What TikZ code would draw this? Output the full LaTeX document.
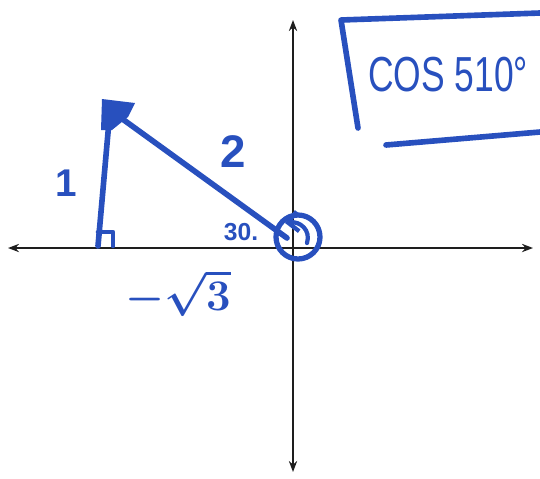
\documentclass[tikz,border=0pt]{standalone}
\usepackage{fontspec}
\setmainfont{Liberation Sans}
\usepackage{tikz}
\usetikzlibrary{positioning,arrows.meta}
\definecolor{InkBlue}{RGB}{40,80,190}
\definecolor{AxisGray}{RGB}{30,30,30}

\begin{document}
\begin{tikzpicture}[x=0.02cm, y=-0.02cm,
    axis/.style={line width=1.1pt, AxisGray, {Stealth[length=2.2mm]}-{Stealth[length=2.2mm]}},
    pen/.style={line width=3.2pt, draw=InkBlue, line cap=round, line join=round},
    inklabel/.style={text=InkBlue, inner sep=0pt},
]
\useasboundingbox (0,0) rectangle (540,478);

% axes
\coordinate (O) at (293,248);
\coordinate (xleft) at (8,248);
\coordinate (xright) at (533,248);
\coordinate (ytop) at (293,20);
\coordinate (ybottom) at (293,472);
\draw[axis] (xleft) -- (xright);
\draw[axis] (ybottom) -- (ytop);

% reference triangle
\coordinate (apex) at (110,110);
\coordinate (foot) at (98,246);
\coordinate (tip) at (287,238);
\draw[pen] (foot) -- (apex) -- (tip);
\fill[InkBlue] (102,99) -- (135,103) -- (128,117) -- (112,130) -- (101,130) -- cycle;
\draw[pen, line width=2.6pt] (98,232) -- (113,232) -- (113,246);

% angle from the positive x-axis
\node[draw=InkBlue, line width=3pt, circle, minimum size=0.88cm, inner sep=0pt] (turn) at (298,237) {};
\coordinate (arcstart) at (307,243);
\coordinate (arcend) at (285,223);
\draw[pen, line width=2.4pt, -{Straight Barb[length=2mm]}] (arcstart) .. controls (311,230) and (300,221) .. (arcend);

% labels
\node[inklabel, font=\fontsize{22}{22}\selectfont\bfseries] (sideone) at (66,183) {1};
\node[inklabel, font=\fontsize{26}{26}\selectfont\bfseries] (hyp) at (233,152) {2};
\node[inklabel, font=\fontsize{14}{14}\selectfont\bfseries] (angle) at (241,232) {30.};
\node[inklabel, font=\fontsize{24}{24}\selectfont\boldmath] (base) at (178,293) {$-\sqrt{3}$};

% title box
\draw[pen] (358,128) -- (341,20) -- (540,13);
\draw[pen] (386,145) -- (540,132);
\node[inklabel, font=\fontsize{28}{28}\selectfont, anchor=west, xscale=0.72] (title) at (368,75) {COS 510°};
\end{tikzpicture}
\end{document}
